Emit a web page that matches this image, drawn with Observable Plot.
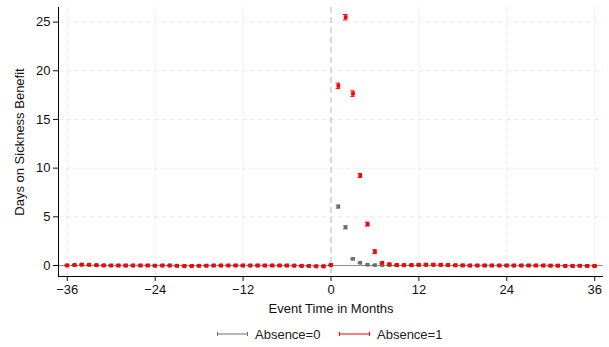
<!DOCTYPE html>
<html><head><meta charset="utf-8">
<script src="https://cdn.jsdelivr.net/npm/d3@7"></script>
<script src="https://cdn.jsdelivr.net/npm/@observablehq/plot@0.6"></script>
<style>
body{margin:0;background:#fff;font-family:"Liberation Sans",Arial,sans-serif;}
#wrap{position:relative;width:609px;height:347px}
#legend{position:absolute;left:0;top:326px;width:609px;height:16px;font-size:13px;color:#222}
.item{position:absolute;top:0;display:flex;align-items:center;height:16px}
.item svg{margin-right:7px}
</style></head>
<body><div id="wrap"><div id="chart"></div><div id="legend"></div></div>
<script>
const months = d3.range(-36, 37);
const absence1 = [
 0.00,0.05,0.08,0.07,0.03,0.00,0.00,0.00,0.00,0.00,0.00,0.00,
 -0.02,0.00,0.00,-0.03,-0.05,-0.05,-0.03,-0.02,0.00,0.00,0.00,0.00,
 0.00,0.00,0.00,0.00,0.00,0.00,0.00,-0.02,-0.05,-0.05,-0.10,-0.10,
 0.06,
 18.45,25.50,17.65,9.25,4.25,1.42,0.28,0.14,0.06,0.05,0.05,0.08,
 0.10,0.10,0.08,0.06,0.03,0.02,0.00,0.00,0.00,0.00,0.00,0.00,
 0.00,0.00,0.00,0.00,0.00,-0.02,-0.02,-0.05,-0.05,-0.03,-0.05,-0.05
];
const absence0 = [
 0.02,0.05,0.10,0.08,0.04,0.02,0.00,0.00,0.00,0.00,0.00,0.00,
 -0.02,0.00,0.00,-0.02,-0.04,-0.04,-0.02,-0.02,0.00,0.00,0.00,0.00,
 0.00,0.00,0.00,0.00,0.00,0.00,0.00,0.00,-0.02,-0.03,-0.05,-0.05,
 0.02,
 6.05,3.92,0.68,0.28,0.08,0.04,0.03,0.03,0.02,0.02,0.02,0.03,
 0.04,0.04,0.03,0.02,0.01,0.00,0.00,0.00,0.00,0.00,0.00,0.00,
 0.00,0.00,0.00,0.00,0.00,-0.01,-0.01,-0.03,-0.03,-0.02,-0.03,-0.03
];
const ci1 = months.map(m=> m<=0 ? 0.06 : (m<=3 ? 0.28 : m<=6 ? 0.2 : 0.08));
const ci0 = months.map(m=> m<=0 ? 0.05 : (m<=2 ? 0.15 : 0.06));
const xTicks = [-36,-24,-12,0,12,24,36];
const yTicks = [0,5,10,15,20,25];
const series = [
  {name:"Absence=0", values:absence0, ci:ci0, color:"#6e6e6e", lx:217, tx:255},
  {name:"Absence=1", values:absence1, ci:ci1, color:"#ff0000", lx:339, tx:377}
];
const marks = [
  Plot.ruleX(xTicks.filter(d=>d!==0), {stroke:"#ebebeb", strokeDasharray:"5,3"}),
  Plot.ruleY(yTicks.filter(d=>d!==0), {stroke:"#ebebeb", strokeDasharray:"5,3"}),
  Plot.ruleY([0], {stroke:"#8c8c8c", strokeWidth:1}),
  Plot.ruleX([0], {stroke:"#b4b4b4", strokeDasharray:"6,4"}),
];
for (const s of series) {
  const data = months.map((m,i)=>({t:m, v:s.values[i], lo:s.values[i]-s.ci[i], hi:s.values[i]+s.ci[i]}));
  marks.push(
    Plot.ruleX(data, {x:"t", y1:"lo", y2:"hi", stroke:s.color, strokeWidth:1}),
    Plot.ruleY(data, {y:"lo", x1:d=>d.t-0.3, x2:d=>d.t+0.3, stroke:s.color, strokeWidth:1}),
    Plot.ruleY(data, {y:"hi", x1:d=>d.t-0.3, x2:d=>d.t+0.3, stroke:s.color, strokeWidth:1}),
    Plot.dot(data, {x:"t", y:"v", symbol:"square", r:2.1, fill:s.color, stroke:null})
  );
}
marks.push(
  Plot.axisX({ticks:xTicks, tickSize:5, tickPadding:3, label:"Event Time in Months", labelAnchor:"center", labelArrow:"none", labelOffset:36, fontSize:13}),
  Plot.axisY({ticks:yTicks, tickSize:5, tickPadding:3, label:"Days on Sickness Benefit", labelAnchor:"center", labelArrow:"none", labelOffset:44, fontSize:13}),
  Plot.ruleX([-37.2], {stroke:"#000"}),
  Plot.ruleY([-1.13], {stroke:"#000"})
);
const chart = Plot.plot({
  width:609, height:316,
  marginLeft:58, marginRight:6, marginTop:7, marginBottom:40,
  x:{domain:[-37.2,37.2]},
  y:{domain:[-1.13,26.5]},
  style:{fontFamily:"Liberation Sans, Arial, sans-serif", fontSize:"13px", color:"#111"},
  marks
});
document.getElementById("chart").appendChild(chart);
const leg = document.getElementById("legend");
for (const s of series) {
  const it = document.createElement("div"); it.className="item";
  it.style.left = s.lx + "px";
  it.innerHTML = `<svg width="31" height="8" style="margin-right:${s.tx-s.lx-31}px"><line x1="0.5" x2="30.5" y1="4" y2="4" stroke="${s.color}"/><line x1="0.5" x2="0.5" y1="2" y2="6" stroke="${s.color}"/><line x1="30.5" x2="30.5" y1="2" y2="6" stroke="${s.color}"/></svg><span>${s.name}</span>`;
  leg.appendChild(it);
}
</script></body></html>
